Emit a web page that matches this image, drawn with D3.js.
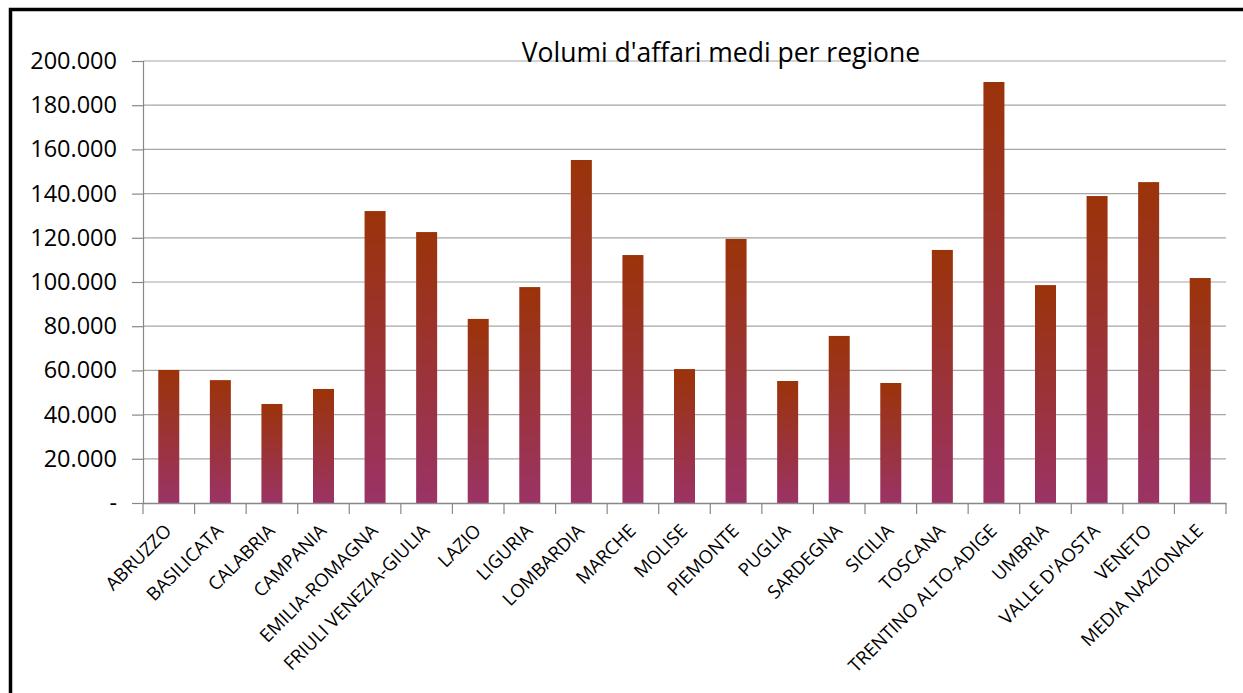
<!DOCTYPE html>
<html>
<head>
<meta charset="utf-8">
<script src="https://cdn.jsdelivr.net/npm/d3@7"></script>
<style>
body { margin: 0; background: #fff; }
text { font-family: "Open Sans", "Liberation Sans", sans-serif; }
</style>
</head>
<body>
<div id="chart"></div>
<script>
var regions = ["ABRUZZO", "BASILICATA", "CALABRIA", "CAMPANIA", "EMILIA-ROMAGNA",
	"FRIULI VENEZIA-GIULIA", "LAZIO", "LIGURIA", "LOMBARDIA", "MARCHE", "MOLISE",
	"PIEMONTE", "PUGLIA", "SARDEGNA", "SICILIA", "TOSCANA", "TRENTINO ALTO-ADIGE",
	"UMBRIA", "VALLE D'AOSTA", "VENETO", "MEDIA NAZIONALE"];
var volumi = [60200, 55600, 44800, 51600, 132100, 122600, 83300, 97700, 155200, 112200,
	60600, 119500, 55200, 75600, 54300, 114500, 190500, 98600, 138900, 145200, 101800];
var yTicks = [0, 20000, 40000, 60000, 80000, 100000, 120000, 140000, 160000, 180000, 200000];
var title = "Volumi d'affari medi per regione";

var w = 1243, h = 693;
var mLeft = 143, mRight = 1226, mTop = 61, mBottom = 503;

var svg = d3.select("#chart").append("svg")
	.attr("width", w)
	.attr("height", h);

// cornice
svg.append("path")
	.attr("d", "M10.5," + h + " V9.5 H" + w)
	.attr("fill", "none")
	.attr("stroke", "black")
	.attr("stroke-width", 3.5);

var x = d3.scaleBand().domain(regions).range([mLeft, mRight]).padding(0);
var y = d3.scaleLinear().domain([0, 200000]).range([mBottom, mTop]);

var grad = svg.append("defs").append("linearGradient")
	.attr("id", "barGrad")
	.attr("x1", "0%").attr("y1", "0%")
	.attr("x2", "0%").attr("y2", "100%");
grad.append("stop").attr("offset", "0%").attr("stop-color", "#9b3309");
grad.append("stop").attr("offset", "100%").attr("stop-color", "#9b3366");

// griglia
svg.append("g")
	.selectAll("line")
	.data(yTicks.slice(1))
	.enter().append("line")
	.attr("x1", mLeft).attr("x2", mRight)
	.attr("y1", d => y(d)).attr("y2", d => y(d))
	.attr("stroke", "#a6a6a6")
	.attr("stroke-width", 1.2);

var fmt = d => d == 0 ? "-" : d3.format(",.0f")(d).replace(/,/g, ".");

var yAxis = d3.axisLeft(y).tickValues(yTicks).tickFormat(fmt).tickSize(11).tickPadding(15);
var gy = svg.append("g")
	.attr("transform", "translate(" + mLeft + ",0)")
	.call(yAxis);
gy.select(".domain").attr("stroke", "#888").attr("stroke-width", 1.2);
gy.selectAll(".tick line").attr("stroke", "#888").attr("stroke-width", 1.2);
gy.selectAll(".tick text")
	.attr("font-size", 23.5)
	.attr("fill", "#000")
	.style("font-family", "'Open Sans', sans-serif");

// barre
svg.append("g")
	.selectAll("rect")
	.data(volumi)
	.enter().append("rect")
	.attr("x", (d, i) => x(regions[i]) + x.bandwidth() / 2 - 10.5)
	.attr("width", 21)
	.attr("y", d => y(d))
	.attr("height", d => y(0) - y(d))
	.attr("fill", "url(#barGrad)");

// asse x
var xAxis = d3.axisBottom(x).tickSize(0).tickFormat("");
var gx = svg.append("g")
	.attr("transform", "translate(0," + mBottom + ")")
	.call(xAxis);
gx.select(".domain").attr("stroke", "#888").attr("stroke-width", 1.5);

var bounds = regions.map(r => x(r)).concat([mRight]);
svg.append("g")
	.selectAll("line")
	.data(bounds)
	.enter().append("line")
	.attr("x1", d => d).attr("x2", d => d)
	.attr("y1", mBottom).attr("y2", mBottom + 11)
	.attr("stroke", "#888")
	.attr("stroke-width", 1.2);

svg.append("g")
	.selectAll("text")
	.data(regions)
	.enter().append("text")
	.attr("text-anchor", "end")
	.attr("font-size", 18.5)
	.attr("fill", "#000")
	.attr("transform", d => "translate(" + (x(d) + x.bandwidth() / 2 + 4) + "," + (mBottom + 29) + ") rotate(-45)")
	.text(d => d);

svg.append("text")
	.attr("x", 721)
	.attr("y", 62)
	.attr("text-anchor", "middle")
	.attr("font-size", 26.5)
	.attr("fill", "#000")
	.text(title);
</script>
</body>
</html>
